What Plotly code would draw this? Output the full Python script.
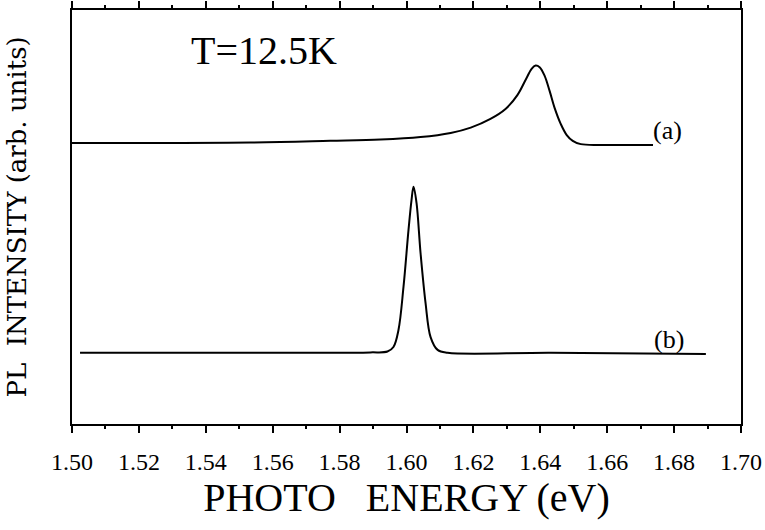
import plotly.graph_objects as go

# Photon energy (eV) and PL intensity (arb. units)
energy_a = [1.5000, 1.5533, 1.5772, 1.5922, 1.6042, 1.6132, 1.6192, 1.6251, 1.6296,
            1.6332, 1.6359, 1.6374, 1.6386, 1.6398, 1.6413, 1.6428, 1.6443, 1.6461,
            1.6479, 1.6497, 1.6521, 1.6581, 1.6737]
intensity_a = [6.79, 6.80, 6.84, 6.87, 6.93, 7.03, 7.16, 7.37, 7.61,
               7.95, 8.36, 8.58, 8.66, 8.62, 8.41, 8.04, 7.63, 7.25,
               6.98, 6.84, 6.76, 6.74, 6.74]

energy_b = [1.5024, 1.5683, 1.5892, 1.5943, 1.5961, 1.5976, 1.5991, 1.6006, 1.6015,
            1.6021, 1.6030, 1.6042, 1.6057, 1.6072, 1.6093, 1.6123, 1.6431, 1.6895]
intensity_b = [1.72, 1.72, 1.73, 1.75, 1.86, 2.27, 3.31, 4.69, 5.41,
               5.73, 5.34, 4.13, 2.92, 2.10, 1.79, 1.72, 1.72, 1.69]

x_ticks = [1.50, 1.52, 1.54, 1.56, 1.58, 1.60, 1.62, 1.64, 1.66, 1.68, 1.70]
x_tick_labels = ["1.50", "1.52", "1.54", "1.56", "1.58", "1.60", "1.62", "1.64",
                 "1.66", "1.68", "1.70"]
x_minor_ticks = [1.51, 1.53, 1.55, 1.57, 1.59, 1.61, 1.63, 1.65, 1.67, 1.69]
curve_labels = ["(a)", "(b)"]
temperature_text = "T=12.5K"

fig = go.Figure()
fig.add_trace(go.Scatter(x=energy_a, y=intensity_a, mode="lines", line_shape="spline",
                         line=dict(color="black", width=2), name=curve_labels[0],
                         showlegend=False))
fig.add_trace(go.Scatter(x=energy_b, y=intensity_b, mode="lines", line_shape="spline",
                         line=dict(color="black", width=2), name=curve_labels[1],
                         showlegend=False))
# empty trace that carries the minor-tick axis
fig.add_trace(go.Scatter(x=[], y=[], xaxis="x2", yaxis="y", mode="lines",
                         showlegend=False, hoverinfo="skip"))

serif = "Liberation Serif"

fig.add_annotation(x=1.6780, y=7.1, text=curve_labels[0], showarrow=False,
                   font=dict(family=serif, size=26, color="black"), xanchor="center", yanchor="middle")
fig.add_annotation(x=1.6785, y=2.05, text=curve_labels[1], showarrow=False,
                   font=dict(family=serif, size=26, color="black"), xanchor="center", yanchor="middle")
fig.add_annotation(x=1.5575, y=9.03, text=temperature_text, showarrow=False,
                   font=dict(family=serif, size=40, color="black"), xanchor="center", yanchor="middle")

fig.update_layout(
    template="none",
    width=765, height=530,
    margin=dict(l=72, r=24, t=10, b=106),
    paper_bgcolor="white", plot_bgcolor="white",
    xaxis=dict(
        range=[1.50, 1.70], tickmode="array", tickvals=x_ticks, ticktext=x_tick_labels,
        ticks="outside", ticklen=7, tickwidth=2, tickcolor="black",
        showline=True, linecolor="black", linewidth=2, mirror="ticks",
        showgrid=False, zeroline=False,
        ticklabelstandoff=8,
        tickfont=dict(family=serif, size=24, color="black"),
        title=dict(text="PHOTO\u00a0\u00a0\u00a0ENERGY (eV)", standoff=8,
                   font=dict(family=serif, size=40, color="black")),
    ),
    xaxis2=dict(
        range=[1.50, 1.70], overlaying="x", anchor="y", side="bottom",
        tickmode="array", tickvals=x_minor_ticks, showticklabels=False,
        ticks="outside", ticklen=4, tickwidth=2, tickcolor="black",
        showline=False, mirror="ticks", showgrid=False, zeroline=False,
    ),
    yaxis=dict(
        range=[0, 10], showticklabels=False, ticks="",
        showline=True, linecolor="black", linewidth=2, mirror=True,
        showgrid=False, zeroline=False,
        title=dict(text="PL\u00a0\u00a0INTENSITY (arb. units)", standoff=36,
                   font=dict(family="DejaVu Serif", size=26, color="black")),
    ),
)

fig.write_html("out.html")
